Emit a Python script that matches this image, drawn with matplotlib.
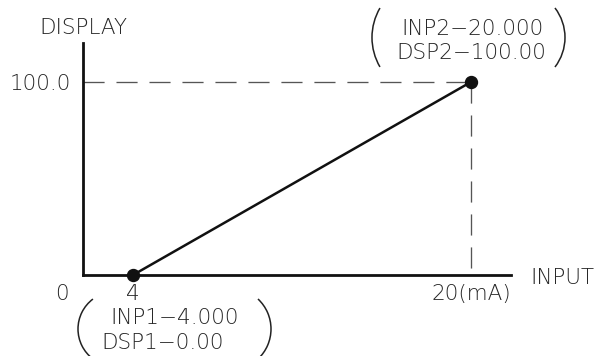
import matplotlib
matplotlib.use('Agg')
import matplotlib.pyplot as plt
from matplotlib.patches import Arc
from matplotlib.transforms import IdentityTransform

# scaling points (input mA -> display value)
input_ma = [4, 20]
display_val = [0.0, 100.0]
x_ticks = [4, 20]
x_tick_labels = ['4', '20(mA)']
y_ticks = [100]
y_tick_labels = ['100.0']
inp_labels = ['INP1\u22124.000', 'INP2\u221220.000']
dsp_labels = ['DSP1\u22120.00', 'DSP2\u2212100.00']

plt.rcParams['font.family'] = ['DejaVu Sans']
plt.rcParams['font.weight'] = 'light'
fs = 15.5
txt = '#262626'

W, H = 595, 356
fig = plt.figure(figsize=(W / 100, H / 100), dpi=100)
ax = fig.add_axes([83 / W, 81 / H, 428 / W, 232 / H])
ax.set_xlim(1.633, 21.894)
ax.set_ylim(0, 120.2)

for s in ['top', 'right']:
    ax.spines[s].set_visible(False)
for s in ['left', 'bottom']:
    ax.spines[s].set_linewidth(2.0)
    ax.spines[s].set_color('#111111')

ax.set_xticks(x_ticks, x_tick_labels)
ax.set_yticks(y_ticks, y_tick_labels)
ax.tick_params(length=0, labelsize=fs, labelcolor=txt)
ax.tick_params(axis='x', pad=6.8)
ax.tick_params(axis='y', pad=8.6)

# guide lines
dash = (0, (16, 9))
ax.plot([ax.get_xlim()[0], input_ma[1]], [display_val[1]] * 2,
        ls=dash, lw=0.95, color='#555555')
ax.plot([input_ma[1]] * 2, [display_val[1], 0], ls=dash, lw=0.95, color='#555555')

ax.plot(input_ma, display_val, color='#111111', lw=1.8, marker='o', ms=8.6,
        clip_on=False, zorder=5)

# axis names and the "0"
ax.annotate('DISPLAY', xy=(0, 1), xycoords='axes fraction', xytext=(0, 9),
            textcoords='offset pixels', ha='center', va='baseline',
            fontsize=fs, color=txt)
ax.annotate('INPUT', xy=(1, 0), xycoords='axes fraction', xytext=(19, -9),
            textcoords='offset pixels', ha='left', va='baseline',
            fontsize=fs, color=txt)
ax.annotate('0', xy=(0, 0), xycoords='axes fraction', xytext=(-21, -9.4),
            textcoords='offset pixels', ha='center', va='top',
            fontsize=fs, color=txt)

# parameter notes
ax.annotate(inp_labels[1], xy=(input_ma[1], display_val[1]), xytext=(1.5, 47),
            textcoords='offset pixels', ha='center', va='baseline',
            fontsize=fs, color=txt, annotation_clip=False)
ax.annotate(dsp_labels[1], xy=(input_ma[1], display_val[1]), xytext=(0, 23),
            textcoords='offset pixels', ha='center', va='baseline',
            fontsize=fs, color=txt, annotation_clip=False)
ax.annotate(inp_labels[0], xy=(input_ma[0], display_val[0]), xytext=(41.5, -49),
            textcoords='offset pixels', ha='center', va='baseline',
            fontsize=fs, color=txt, annotation_clip=False)
ax.annotate(dsp_labels[0], xy=(input_ma[0], display_val[0]), xytext=(30, -74),
            textcoords='offset pixels', ha='center', va='baseline',
            fontsize=fs, color=txt, annotation_clip=False)


def paren(x, y, dx, dy, r, span, left):
    px, py = ax.transData.transform((x, y))
    c = 180 if left else 0
    fig.add_artist(Arc((px + dx, py + dy), 2 * r, 2 * r, theta1=c - span,
                       theta2=c + span, transform=IdentityTransform(),
                       lw=1.1, color='#222222'))


paren(input_ma[1], display_val[1], -40.6, 44.5, 58.4, 30.3, True)
paren(input_ma[1], display_val[1], 45.5, 44.5, 48.5, 37.5, False)
paren(input_ma[0], display_val[0], -17.5, -54, 37.5, 53, True)
paren(input_ma[0], display_val[0], 96.9, -54, 41.1, 46.9, False)

fig.savefig('out.png', dpi=100)
